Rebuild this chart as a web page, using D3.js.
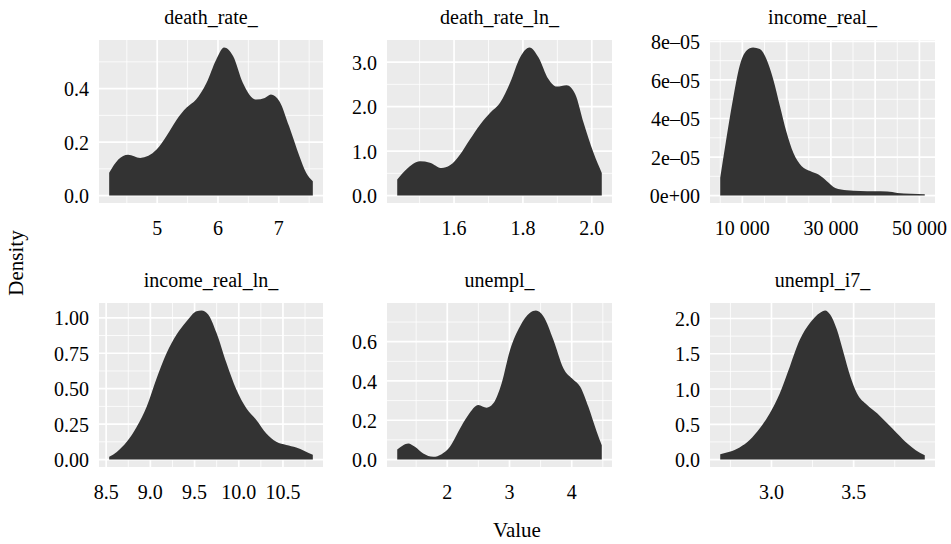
<!DOCTYPE html>
<html>
<head>
<meta charset="utf-8">
<script src="https://cdn.jsdelivr.net/npm/d3@7"></script>
<style>
body { margin: 0; background: #fff; }
text { font-family: "Liberation Serif", "Times New Roman", serif; fill: #000; }
</style>
</head>
<body>
<script>
// facet titles
const titres = ["death_rate_", "death_rate_ln_", "income_real_", "income_real_ln_", "unempl_", "unempl_i7_"];

// density curves (value, density)
const deathRateX = [4.21, 4.36, 4.52, 4.72, 4.99, 5.15, 5.32, 5.48, 5.64, 5.81, 5.97, 6.10, 6.25, 6.41, 6.63, 6.77, 6.87, 7.01, 7.17, 7.34, 7.45, 7.56];
const deathRateD = [0.085, 0.135, 0.153, 0.141, 0.172, 0.222, 0.284, 0.328, 0.359, 0.421, 0.508, 0.554, 0.521, 0.421, 0.359, 0.365, 0.378, 0.353, 0.259, 0.147, 0.085, 0.054];

const deathRateLnX = [1.435, 1.462, 1.501, 1.530, 1.564, 1.588, 1.617, 1.646, 1.676, 1.705, 1.734, 1.763, 1.792, 1.819, 1.845, 1.874, 1.898, 1.927, 1.952, 1.976, 2.005, 2.029];
const deathRateLnD = [0.36, 0.59, 0.77, 0.74, 0.62, 0.68, 0.92, 1.26, 1.60, 1.86, 2.09, 2.54, 3.11, 3.33, 3.11, 2.62, 2.45, 2.48, 2.28, 1.64, 0.96, 0.51];

const incomeX = [5000, 6364, 7879, 9394, 10909, 12424, 13939, 15455, 16970, 18485, 20000, 21515, 23409, 25303, 27197, 29090, 30985, 33636, 36667, 39697, 42727, 45000, 48030, 51212];
const incomeD = [0.92e-5, 2.92e-5, 5.0e-5, 6.74e-5, 7.52e-5, 7.69e-5, 7.61e-5, 7.08e-5, 6.04e-5, 4.65e-5, 3.27e-5, 2.22e-5, 1.52e-5, 1.27e-5, 1.09e-5, 0.75e-5, 0.40e-5, 0.28e-5, 0.24e-5, 0.22e-5, 0.21e-5, 0.14e-5, 0.09e-5, 0.07e-5];

const incomeLnX = [8.534, 8.62, 8.733, 8.846, 8.959, 9.071, 9.184, 9.297, 9.41, 9.523, 9.579, 9.654, 9.748, 9.861, 9.974, 10.086, 10.199, 10.312, 10.425, 10.538, 10.65, 10.744, 10.838];
const incomeLnD = [0.019, 0.054, 0.125, 0.232, 0.374, 0.574, 0.752, 0.882, 0.976, 1.047, 1.052, 1.024, 0.894, 0.681, 0.492, 0.362, 0.279, 0.184, 0.125, 0.102, 0.085, 0.061, 0.033];

const unemplX = [1.196, 1.292, 1.373, 1.48, 1.614, 1.775, 1.909, 2.043, 2.177, 2.338, 2.499, 2.633, 2.74, 2.874, 3.01, 3.17, 3.33, 3.426, 3.544, 3.705, 3.866, 4.027, 4.134, 4.268, 4.402, 4.483];
const unemplD = [0.051, 0.073, 0.082, 0.065, 0.031, 0.014, 0.027, 0.065, 0.142, 0.227, 0.278, 0.264, 0.286, 0.389, 0.559, 0.679, 0.747, 0.759, 0.730, 0.610, 0.465, 0.406, 0.372, 0.269, 0.142, 0.073];

const unemplI7X = [2.688, 2.745, 2.806, 2.867, 2.929, 2.99, 3.051, 3.112, 3.173, 3.235, 3.296, 3.327, 3.357, 3.398, 3.439, 3.48, 3.52, 3.582, 3.643, 3.704, 3.765, 3.827, 3.878, 3.933];
const unemplI7D = [0.076, 0.109, 0.171, 0.276, 0.442, 0.656, 0.941, 1.321, 1.701, 1.938, 2.081, 2.114, 2.057, 1.843, 1.511, 1.178, 0.941, 0.774, 0.656, 0.513, 0.371, 0.228, 0.133, 0.062];

// ticks (major breaks) and their labels
const xTicks = [[5, 6, 7], [1.6, 1.8, 2.0], [10000, 20000, 30000, 40000, 50000], [8.5, 9.0, 9.5, 10.0, 10.5], [2, 3, 4], [3.0, 3.5]];
const xLabels = [["5", "6", "7"], ["1.6", "1.8", "2.0"], ["10 000", "", "30 000", "", "50 000"], ["8.5", "9.0", "9.5", "10.0", "10.5"], ["2", "3", "4"], ["3.0", "3.5"]];
const yTicks = [[0, 0.2, 0.4], [0, 1, 2, 3], [0, 2e-5, 4e-5, 6e-5, 8e-5], [0, 0.25, 0.5, 0.75, 1.0], [0, 0.2, 0.4, 0.6], [0, 0.5, 1.0, 1.5, 2.0]];
const yLabels = [["0.0", "0.2", "0.4"], ["0.0", "1.0", "2.0", "3.0"], ["0e+00", "2e–05", "4e–05", "6e–05", "8e–05"], ["0.00", "0.25", "0.50", "0.75", "1.00"], ["0.0", "0.2", "0.4", "0.6"], ["0.0", "0.5", "1.0", "1.5", "2.0"]];

const series = [
    [deathRateX, deathRateD], [deathRateLnX, deathRateLnD], [incomeX, incomeD],
    [incomeLnX, incomeLnD], [unemplX, unemplD], [unemplI7X, unemplI7D]
];

const largeur = 951, hauteur = 544;
const colX = [99, 387, 710], colW = [224, 225, 225];
const rowY = [40, 303], rowH = [163, 164];

const svg = d3.select("body").append("svg")
    .attr("width", largeur)
    .attr("height", hauteur);

// minor breaks halfway between majors, extended one step each side
function mineurs(ticks, domaine) {
    const pas = ticks.length > 1 ? ticks[1] - ticks[0] : 1;
    const res = [];
    for (let v = ticks[0] - pas / 2; v <= ticks[ticks.length - 1] + pas; v += pas) {
        if (v >= domaine[0] && v <= domaine[1]) res.push(v);
    }
    return res;
}

series.forEach(function(s, i) {
    const col = i % 3, row = Math.floor(i / 3);
    const x0 = colX[col], y0 = rowY[row], w = colW[col], h = rowH[row];
    const xs = s[0], ds = s[1];

    const xmin = d3.min(xs), xmax = d3.max(xs);
    const dx = (xmax - xmin) * 0.05;
    const dmax = d3.max(ds);

    const echelleX = d3.scaleLinear().domain([xmin - dx, xmax + dx]).range([0, w]);
    const echelleY = d3.scaleLinear().domain([-dmax * 0.05, dmax * 1.05]).range([h, 0]);

    const g = svg.append("g").attr("transform", "translate(" + x0 + "," + y0 + ")");

    g.append("rect").attr("width", w).attr("height", h).attr("fill", "#ebebeb");

    // grille mineure
    g.selectAll(".mx").data(mineurs(xTicks[i], echelleX.domain())).enter().append("line")
        .attr("x1", d => echelleX(d)).attr("x2", d => echelleX(d))
        .attr("y1", 0).attr("y2", h)
        .attr("stroke", "#fff").attr("stroke-width", 0.8);
    g.selectAll(".my").data(mineurs(yTicks[i], echelleY.domain())).enter().append("line")
        .attr("y1", d => echelleY(d)).attr("y2", d => echelleY(d))
        .attr("x1", 0).attr("x2", w)
        .attr("stroke", "#fff").attr("stroke-width", 0.8);

    // grille majeure
    g.selectAll(".gx").data(xTicks[i]).enter().append("line")
        .attr("x1", d => echelleX(d)).attr("x2", d => echelleX(d))
        .attr("y1", 0).attr("y2", h)
        .attr("stroke", "#fff").attr("stroke-width", 1.7);
    g.selectAll(".gy").data(yTicks[i]).enter().append("line")
        .attr("y1", d => echelleY(d)).attr("y2", d => echelleY(d))
        .attr("x1", 0).attr("x2", w)
        .attr("stroke", "#fff").attr("stroke-width", 1.7);

    // densité
    const aire = d3.area()
        .x(d => echelleX(d[0]))
        .y0(echelleY(0))
        .y1(d => echelleY(d[1]))
        .curve(d3.curveMonotoneX);
    g.append("path")
        .datum(xs.map((v, k) => [v, ds[k]]))
        .attr("d", aire)
        .attr("fill", "#333333");

    // étiquettes des axes
    g.selectAll(".lx").data(xTicks[i]).enter().append("text")
        .attr("x", d => echelleX(d))
        .attr("y", h + 32)
        .attr("text-anchor", "middle")
        .attr("font-size", "20px")
        .text((d, k) => xLabels[i][k]);
    g.selectAll(".ly").data(yTicks[i]).enter().append("text")
        .attr("x", -10)
        .attr("y", d => echelleY(d))
        .attr("dy", "0.38em")
        .attr("text-anchor", "end")
        .attr("font-size", "20px")
        .text((d, k) => yLabels[i][k]);

    // titre du panneau
    g.append("text")
        .attr("x", w / 2)
        .attr("y", -16.5)
        .attr("text-anchor", "middle")
        .attr("font-size", "20px")
        .text(titres[i]);
});

svg.append("text")
    .attr("x", 517)
    .attr("y", 537)
    .attr("text-anchor", "middle")
    .attr("font-size", "21px")
    .text("Value");

svg.append("text")
    .attr("transform", "translate(23,263) rotate(-90)")
    .attr("text-anchor", "middle")
    .attr("font-size", "21px")
    .text("Density");
</script>
</body>
</html>
